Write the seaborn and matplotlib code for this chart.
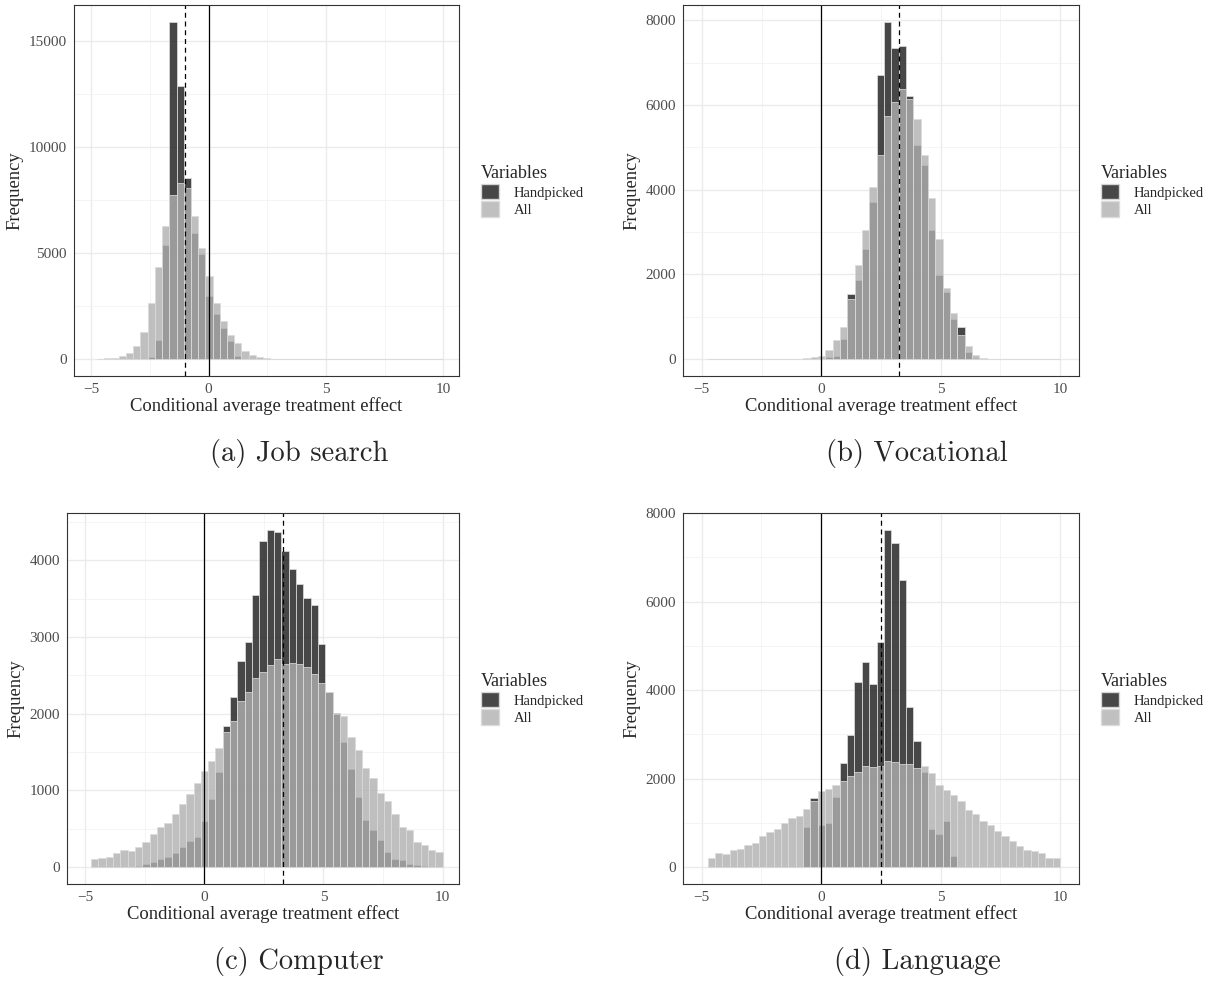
import numpy as np
import matplotlib
matplotlib.use("Agg")
import matplotlib.pyplot as plt
import seaborn as sns
from matplotlib.patches import Patch
from matplotlib.ticker import MultipleLocator

# shared histogram bins (48 bins between -4.75 and 10)
bin_lo, bin_hi, n_bins = -4.75, 10.0, 48
edges = np.linspace(bin_lo, bin_hi, n_bins + 1)
centers = (edges[:-1] + edges[1:]) / 2

# bin counts, one value per bin
job_all = [30, 50, 60, 125, 280, 630, 1290, 2640, 4350, 6280, 7740, 8290,
           8060, 6755, 5240, 3930, 2670, 1775, 1130, 740, 390, 195, 80, 35,
           20, 20, 20, 20, 20, 20, 20, 20, 20, 20, 20, 20,
           15, 15, 15, 15, 15, 15, 15, 15, 15, 15, 15, 15]
job_hand = [0, 0, 0, 0, 0, 0, 0, 80, 910, 5390, 15900, 12880,
            8530, 5970, 4950, 2985, 2150, 1490, 865, 150, 30, 0, 0, 0,
            0, 0, 0, 0, 0, 0, 0, 0, 0, 0, 0, 0,
            0, 0, 0, 0, 0, 0, 0, 0, 0, 0, 0, 0]

voc_all = [15, 15, 15, 15, 15, 15, 15, 15, 15, 15, 15, 15,
           15, 20, 45, 85, 215, 452, 770, 1415, 2228, 3055, 4060, 4820,
           5740, 6075, 6370, 6150, 5660, 4810, 3810, 2830, 1690, 1100, 580, 315,
           90, 35, 15, 15, 15, 15, 15, 15, 15, 15, 15, 15]
voc_hand = [0, 0, 0, 0, 0, 0, 0, 0, 0, 0, 0, 0,
            0, 0, 0, 0, 40, 80, 470, 1530, 1870, 2610, 3700, 6705,
            7960, 7340, 7390, 6210, 5045, 4575, 3050, 1980, 1590, 945, 762, 157,
            20, 0, 0, 0, 0, 0, 0, 0, 0, 0, 0, 0]

comp_all = [109, 117, 130, 178, 217, 208, 269, 334, 438, 517, 582, 695,
            829, 951, 1099, 1259, 1389, 1554, 1763, 1910, 2171, 2280, 2462, 2540,
            2640, 2714, 2649, 2662, 2649, 2605, 2518, 2397, 2288, 2000, 1975, 1697,
            1524, 1289, 1168, 968, 868, 699, 525, 478, 330, 287, 221, 200]
comp_hand = [0, 0, 0, 0, 0, 0, 10, 43, 65, 109, 130, 178,
             265, 339, 391, 608, 894, 1237, 1837, 2214, 2683, 2931, 3543, 4255,
             4398, 4372, 4116, 3891, 3686, 3504, 3421, 2913, 2280, 2010, 1628, 1280,
             911, 612, 490, 360, 195, 109, 87, 35, 26, 13, 0, 0]

lang_all = [211, 316, 301, 384, 406, 504, 549, 700, 798, 873, 993, 1114,
            1167, 1317, 1490, 1720, 1770, 1851, 1957, 2055, 2145, 2280, 2258, 2280,
            2393, 2378, 2333, 2333, 2243, 2280, 2130, 1866, 1753, 1633, 1490, 1302,
            1212, 1039, 963, 828, 700, 587, 474, 384, 376, 309, 211, 196]
lang_hand = [0, 0, 0, 0, 0, 0, 0, 0, 0, 0, 0, 0,
             0, 903, 1558, 963, 1001, 1596, 2356, 2980, 4184, 4636, 4132, 5080,
             7624, 7323, 6487, 3612, 2845, 2145, 865, 738, 1039, 248, 0, 0,
             0, 0, 0, 0, 0, 0, 0, 0, 0, 0, 0, 0]

# average effect (dashed line) per programme
ate_values = [-1.02, 3.24, 3.29, 2.50]
captions = ["(a) Job search", "(b) Vocational", "(c) Computer", "(d) Language"]
legend_labels = ["Handpicked", "All"]

sns.set_theme(style="white")
plt.rcParams["font.family"] = ["Liberation Serif", "DejaVu Serif"]

W, H = 1210, 981
fig = plt.figure(figsize=(W / 100, H / 100), dpi=100)

HAND_COLOR = "#191919"
ALL_COLOR = "#b0b0b0"
EDGE = (0.86, 0.86, 0.86, 0.9)
ALPHA = 0.8

# axes boxes in pixels: left, top, right, bottom
boxes = [(74, 5, 459, 376), (683, 5, 1079, 376),
         (67, 513, 459, 884), (683, 513, 1079, 884)]
caption_x = [299, 917, 299, 917]
xlims = [(-5.74, 10.67), (-5.79, 10.79), (-5.75, 10.68), (-5.78, 10.79)]
y_major = [5000, 2000, 1000, 2000]
series = [(job_all, job_hand), (voc_all, voc_hand),
          (comp_all, comp_hand), (lang_all, lang_hand)]

for k, (box, (all_counts, hand_counts)) in enumerate(zip(boxes, series)):
    l, t, r, b = box
    ax = fig.add_axes([l / W, 1 - b / H, (r - l) / W, (b - t) / H])
    ax.set_axisbelow(True)

    sns.histplot(x=centers, weights=hand_counts, bins=n_bins, binrange=(bin_lo, bin_hi),
                 color=HAND_COLOR, alpha=ALPHA, edgecolor=EDGE, linewidth=0.6, ax=ax)
    sns.histplot(x=centers, weights=all_counts, bins=n_bins, binrange=(bin_lo, bin_hi),
                 color=ALL_COLOR, alpha=ALPHA, edgecolor=EDGE, linewidth=0.6, ax=ax)

    ax.axvline(0, color="black", lw=0.9)
    ax.axvline(ate_values[k], color="black", lw=0.9, ls=(0, (4, 3)))

    ymax = max(max(all_counts), max(hand_counts))
    ax.set_ylim(-0.05 * ymax, 1.05 * ymax)
    ax.set_xlim(*xlims[k])

    ax.xaxis.set_major_locator(MultipleLocator(5))
    ax.xaxis.set_minor_locator(MultipleLocator(2.5))
    ax.yaxis.set_major_locator(MultipleLocator(y_major[k]))
    ax.yaxis.set_minor_locator(MultipleLocator(y_major[k] / 2))
    ax.grid(which="major", color="#ebebeb", lw=1.0)
    ax.grid(which="minor", color="#f2f2f2", lw=0.6)

    for sp in ax.spines.values():
        sp.set_visible(True)
        sp.set_color("#333333")
        sp.set_linewidth(0.8)

    ax.tick_params(axis="both", which="major", length=3, width=0.8,
                   color="#333333", labelsize=11, labelcolor="#4d4d4d", pad=2)
    ax.tick_params(axis="both", which="minor", length=0)
    ax.set_xlabel("Conditional average treatment effect", fontsize=13.4, labelpad=1)
    ax.set_ylabel("Frequency", fontsize=13.4, labelpad=4)

    # legend right of each panel
    handles = [Patch(facecolor="#474747", edgecolor=EDGE),
               Patch(facecolor="#c0c0c0", edgecolor=EDGE)]
    fig.legend(handles, legend_labels, title="Variables",
               loc="upper left", bbox_to_anchor=((r + 12) / W, 1 - (t + 150) / H),
               bbox_transform=fig.transFigure, frameon=False,
               fontsize=10.5, title_fontsize=13, alignment="left",
               handlelength=1.25, handleheight=1.25, labelspacing=0.12,
               handletextpad=1.0, borderpad=0.2)

    # sub-figure caption
    fig.text(caption_x[k] / W, 1 - (b + 78) / H, captions[k],
             fontfamily="cmr10", fontsize=20.6, ha="center", va="center")

fig.savefig("out.png", dpi=100)
